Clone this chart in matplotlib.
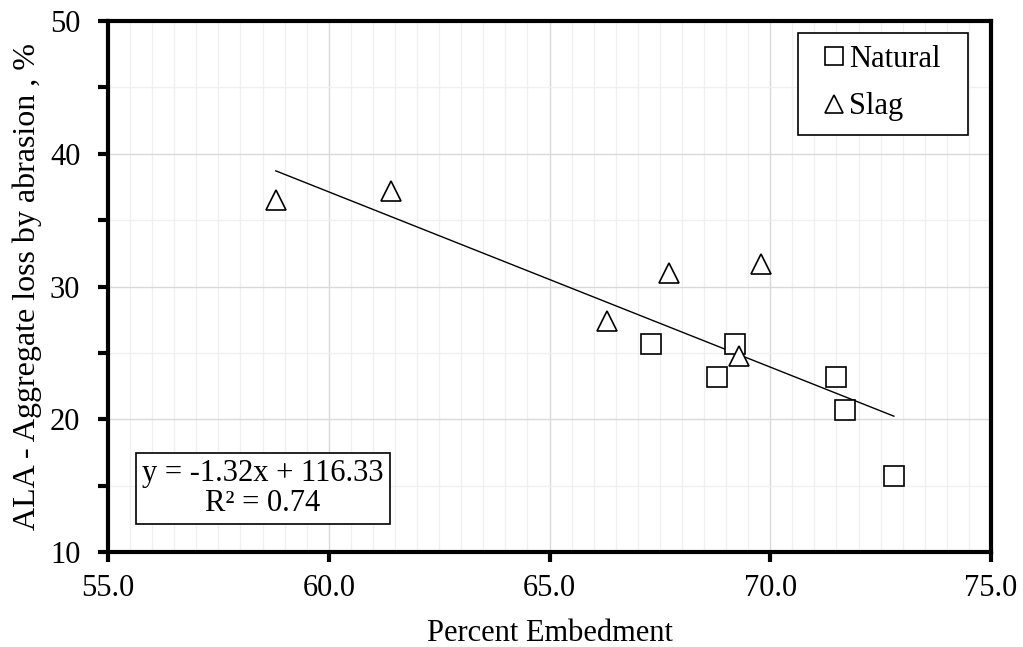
import matplotlib

matplotlib.use("Agg")
import matplotlib.pyplot as plt
from matplotlib.patches import Rectangle
from matplotlib.ticker import MultipleLocator, FormatStrFormatter

# data
natural_x = [67.3, 69.2, 68.8, 71.5, 71.7, 72.8]
natural_y = [25.7, 25.7, 23.2, 23.2, 20.7, 15.7]
slag_x = [58.8, 61.4, 66.3, 67.7, 69.8, 69.3]
slag_y = [36.5, 37.2, 27.4, 31.0, 31.7, 24.8]

# trendline as printed on the chart
slope = -1.32
intercept = 116.33
r2 = 0.74

plt.rcParams["font.family"] = ["Liberation Serif", "DejaVu Serif"]
FS = 22

fig = plt.figure(figsize=(10.23, 6.47), dpi=100)
ax = fig.add_axes([0.1056, 0.1468, 0.8631, 0.8207])

all_x = natural_x + slag_x
x0, x1 = min(all_x), max(all_x)
ax.plot([x0, x1], [slope * x0 + intercept, slope * x1 + intercept],
        color="black", lw=1.0, zorder=3)

ax.plot(natural_x, natural_y, "s", ms=15, mfc="white", mec="black", mew=1.2,
        ls="none", label="Natural", zorder=4)
ax.plot(slag_x, slag_y, "^", ms=15, mfc="white", mec="black", mew=1.2,
        ls="none", label="Slag", zorder=4)

ax.set_xlim(55, 75)
ax.set_ylim(10, 50)
ax.xaxis.set_major_locator(MultipleLocator(5))
ax.xaxis.set_minor_locator(MultipleLocator(0.5))
ax.xaxis.set_major_formatter(FormatStrFormatter("%.1f"))
ax.yaxis.set_major_locator(MultipleLocator(10))
ax.yaxis.set_minor_locator(MultipleLocator(5))

ax.grid(True, which="major", color="#d9d9d9", lw=1.0, zorder=0)
ax.grid(True, which="minor", color="#f0f0f0", lw=1.0, zorder=0)
ax.set_axisbelow(True)

for sp in ax.spines.values():
    sp.set_linewidth(3.0)

ax.tick_params(which="major", direction="out", length=7, width=3.0, labelsize=FS)
ax.tick_params(axis="x", which="major", pad=9)
ax.tick_params(axis="y", which="major", pad=13)
ax.tick_params(axis="x", which="minor", length=0)
ax.tick_params(axis="y", which="minor", direction="out", length=7, width=3.0)

ax.set_xlabel("Percent Embedment", fontsize=FS, labelpad=11)
ax.set_ylabel("ALA - Aggregate loss by abrasion , %", fontsize=23, labelpad=6)

# legend: frame drawn separately (wide side padding, tight top/bottom)
ax.add_patch(Rectangle((0.7814, 0.7853), 0.1926, 0.1921, transform=ax.transAxes,
                       fc="white", ec="black", lw=1.2, zorder=5))
leg = ax.legend(loc="center", bbox_to_anchor=(0.8777, 0.883), fontsize=FS,
                frameon=False, markerscale=0.9,
                handlelength=0.6, handletextpad=0.2, borderpad=0,
                labelspacing=0.6)
leg.set_zorder(6)

ax.text(0.1755, 0.119, f"y = {slope:.2f}x + {intercept:.2f}\nR² = {r2:.2f}",
        transform=ax.transAxes, ha="center", va="center", fontsize=FS,
        multialignment="center", linespacing=1.05, zorder=5,
        bbox=dict(boxstyle="square,pad=0.2", fc="white", ec="black", lw=1.2))

fig.savefig("out.png", dpi=100)
